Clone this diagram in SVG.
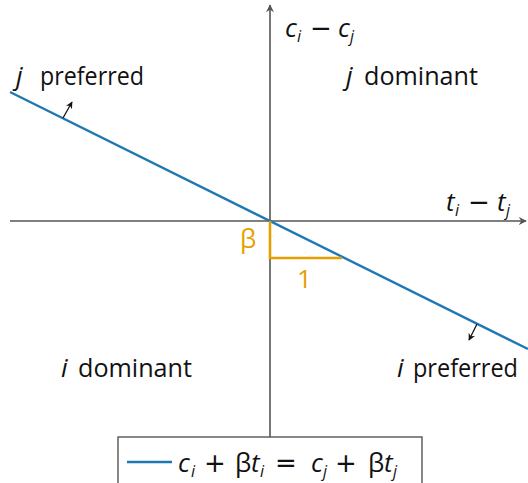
<svg xmlns="http://www.w3.org/2000/svg" width="528" height="483" viewBox="0 0 528 483">
<style>
.ax{stroke:#555;stroke-width:1.6;fill:none}
.t{font-family:"Open Sans","DejaVu Sans",sans-serif;font-size:26px;fill:#111}
.i{font-style:italic}
.s{font-size:16px;font-style:italic}
.op{font-family:"DejaVu Sans",sans-serif;font-size:26px}
.o{fill:#E69F00}
</style>
<defs>
<marker id="ah" viewBox="0 0 10 10" refX="9" refY="5" markerWidth="7" markerHeight="7" orient="auto" markerUnits="userSpaceOnUse"><path d="M0,0 L10,5 L0,10 L3,5 Z" fill="#111"/></marker>
<marker id="axh" viewBox="0 0 10 10" refX="9" refY="5" markerWidth="8" markerHeight="8" orient="auto" markerUnits="userSpaceOnUse"><path d="M0,0 L10,5 L0,10 L3,5 Z" fill="#555"/></marker>
</defs>
<rect width="528" height="483" fill="#fff"/>
<g id="connectors">
<line class="ax" x1="10" y1="221" x2="526" y2="221" marker-end="url(#axh)"/>
<line class="ax" x1="270" y1="437" x2="270" y2="5" marker-end="url(#axh)"/>
<line x1="10" y1="92" x2="528" y2="349" stroke="#1F78B4" stroke-width="2.4"/>
<polyline points="270,221 270,258 342,258" fill="none" stroke="#E69F00" stroke-width="2.6"/>
<line x1="63" y1="118" x2="72" y2="102" stroke="#111" stroke-width="1.3" marker-end="url(#ah)"/>
<line x1="477" y1="324" x2="469" y2="340" stroke="#111" stroke-width="1.3" marker-end="url(#ah)"/>
</g>
<g id="labels">
<text class="t" y="37"><tspan class="i" x="285">c</tspan><tspan class="s" x="297" y="42">i</tspan><tspan class="op" x="310" y="37">−</tspan><tspan class="i" x="338">c</tspan><tspan class="s" x="350" y="42">j</tspan></text>
<text class="t" y="211"><tspan class="i" x="446">t</tspan><tspan class="s" x="455" y="216">i</tspan><tspan class="op" x="468" y="211">−</tspan><tspan class="i" x="497">t</tspan><tspan class="s" x="506" y="216">j</tspan></text>
<text class="t" y="85"><tspan class="i" x="16">j</tspan><tspan x="40" textLength="104" lengthAdjust="spacingAndGlyphs">preferred</tspan></text>
<text class="t" y="85"><tspan class="i" x="346">j</tspan><tspan x="364" textLength="114" lengthAdjust="spacingAndGlyphs">dominant</tspan></text>
<text class="t" y="377"><tspan class="i" x="61">i</tspan><tspan x="78" textLength="114" lengthAdjust="spacingAndGlyphs">dominant</tspan></text>
<text class="t" y="377"><tspan class="i" x="397">i</tspan><tspan x="413" textLength="105" lengthAdjust="spacingAndGlyphs">preferred</tspan></text>
<text class="t o" x="240" y="248">β</text>
<text class="t o" x="297" y="288">1</text>
</g>
<g id="legend">
<rect x="118" y="437" width="304" height="50" fill="#fff" stroke="#555" stroke-width="1.4"/>
<line x1="127" y1="462" x2="172" y2="462" stroke="#1F78B4" stroke-width="2.4"/>
<text class="t" y="472"><tspan class="i" x="178">c</tspan><tspan class="s" x="191" y="477">i</tspan><tspan class="op" x="204" y="472">+</tspan><tspan x="235">β</tspan><tspan class="i" x="251">t</tspan><tspan class="s" x="260" y="477">i</tspan><tspan class="op" x="275" y="472">=</tspan><tspan class="i" x="311">c</tspan><tspan class="s" x="323" y="477">j</tspan><tspan class="op" x="335" y="472">+</tspan><tspan x="368">β</tspan><tspan class="i" x="384">t</tspan><tspan class="s" x="393" y="477">j</tspan></text>
</g>
</svg>
